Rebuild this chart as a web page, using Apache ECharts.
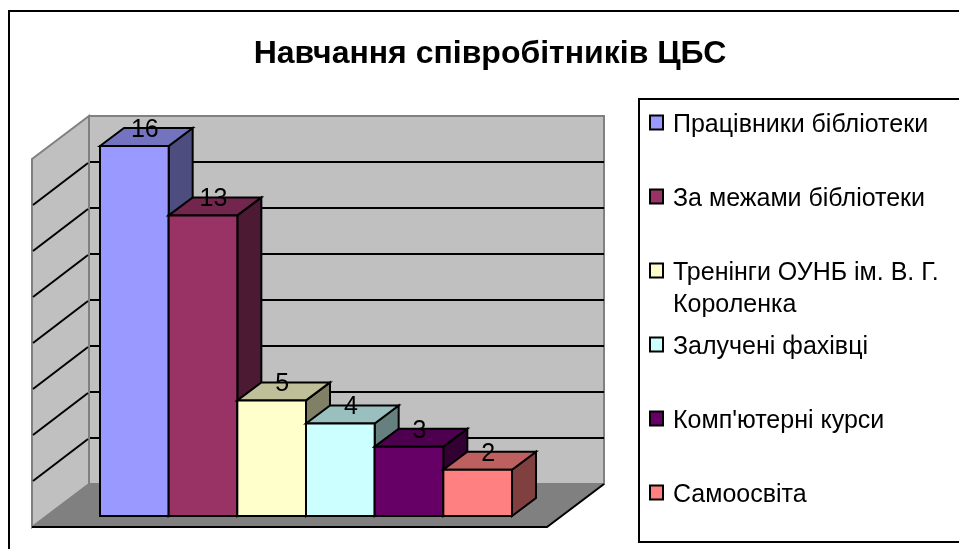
<!DOCTYPE html>
<html>
<head>
<meta charset="utf-8">
<style>
  html, body { margin: 0; padding: 0; background: #fff; overflow: hidden; }
  #main { width: 959px; height: 549px; }
</style>
<script src="https://cdn.jsdelivr.net/npm/echarts@6/dist/echarts.min.js"></script>
</head>
<body>
<div id="main"></div>
<script>
var titleText = "Навчання співробітників ЦБС";
var categories = ["Працівники бібліотеки", "За межами бібліотеки", "Тренінги ОУНБ ім. В. Г. Короленка", "Залучені фахівці", "Комп'ютерні курси", "Самоосвіта"];
var values = [16, 13, 5, 4, 3, 2];
var wallTicks = [0, 2, 4, 6, 8, 10, 12, 14, 16];

var barColors = ["#9999ff", "#993366", "#ffffcc", "#ccffff", "#660066", "#ff8080"];
var legendTops = [113, 187, 261, 335, 409, 483];
var fontName = "Liberation Sans";
var depthX = 24, depthY = 18;   // bar depth in px
var sideX = 57, sideY = 43;     // floor / side wall depth in px

function shade(hex, k) {
  var n = parseInt(hex.slice(1), 16);
  var r = Math.round((n >> 16) * k), g = Math.round(((n >> 8) & 255) * k), b = Math.round((n & 255) * k);
  return "rgb(" + r + "," + g + "," + b + ")";
}

// left wall, floor and slanted grid lines
function renderWalls(params, api) {
  var c = params.coordSys;
  var l = c.x, t = c.y, r = c.x + c.width, b = c.y + c.height;
  var kids = [
    { type: "polygon", shape: { points: [[l - sideX, t + sideY], [l, t], [l, b], [l - sideX, b + sideY]] },
      style: { fill: "#c0c0c0", stroke: "#808080", lineWidth: 2 } },
    { type: "polygon", shape: { points: [[l - sideX, b + sideY], [l, b], [r, b], [r - sideX, b + sideY]] },
      style: { fill: "#808080", stroke: "#808080", lineWidth: 1 } },
    { type: "polyline", shape: { points: [[l - sideX, b + sideY], [r - sideX, b + sideY], [r, b]] },
      style: { fill: null, stroke: "#000", lineWidth: 2 } }
  ];
  wallTicks.slice(1, -1).forEach(function (v) {
    var p = api.coord([0, v]);
    kids.push({ type: "line", shape: { x1: l - sideX + 1, y1: p[1] + sideY, x2: l - 1, y2: p[1] + 1 },
      style: { stroke: "#000", lineWidth: 2 } });
  });
  return { type: "group", children: kids };
}

function renderBar(params, api) {
  var i = api.value(0), v = api.value(1);
  var w = api.size([1, 0])[0];
  var top = api.coord([i, v]), base = api.coord([i, 0]);
  var x0 = top[0] - w / 2, x1 = top[0] + w / 2;
  var y0 = top[1], y1 = base[1];
  var col = barColors[params.seriesIndex - 1];
  var line = { stroke: "#000", lineWidth: 2, lineJoin: "miter" };
  return {
    type: "group",
    children: [
      { type: "polygon", shape: { points: [[x1, y0], [x1 + depthX, y0 - depthY], [x1 + depthX, y1 - depthY], [x1, y1]] },
        style: Object.assign({ fill: shade(col, 0.5) }, line) },
      { type: "polygon", shape: { points: [[x0, y0], [x0 + depthX, y0 - depthY], [x1 + depthX, y0 - depthY], [x1, y0]] },
        style: Object.assign({ fill: shade(col, 0.75) }, line) },
      { type: "rect", shape: { x: x0, y: y0, width: w, height: y1 - y0 },
        style: Object.assign({ fill: col }, line) },
      { type: "text", style: { text: String(v), x: top[0] + 10.5, y: y0 - 16, align: "center", verticalAlign: "middle",
          fill: "#000", font: "25px '" + fontName + "'" }, z2: 10 }
    ]
  };
}

var barSeries = categories.map(function (name, i) {
  return {
    name: name,
    type: "custom",
    xAxisIndex: 0,
    yAxisIndex: 0,
    z: 3 + i,
    clip: false,
    itemStyle: { color: barColors[i] },
    encode: { x: 0, y: 1 },
    data: [[i, values[i]]],
    renderItem: renderBar
  };
});

var option = {
  animation: false,
  backgroundColor: "#fff",
  title: {
    text: titleText,
    left: 485,
    top: 33,
    textAlign: "center",
    textStyle: { fontFamily: fontName, fontSize: 32, fontWeight: "bold", color: "#000" }
  },
  grid: [
    { left: 100, top: 146, width: 412, height: 370 },
    { left: 89, top: 116, width: 515, height: 368, show: true, backgroundColor: "#c0c0c0", borderColor: "#808080", borderWidth: 2 }
  ],
  xAxis: [
    { type: "category", gridIndex: 0, data: categories, show: false },
    { type: "value", gridIndex: 1, min: 0, max: 1, show: false }
  ],
  yAxis: [
    { type: "value", gridIndex: 0, min: 0, max: 16, show: false },
    { type: "value", gridIndex: 1, min: 0, max: 16, interval: 2,
      axisLine: { show: false }, axisTick: { show: false }, axisLabel: { show: false },
      splitLine: { show: true, showMinLine: false, showMaxLine: false, lineStyle: { color: "#000", width: 2 } } }
  ],
  // one legend per entry, the reference spacing is not even
  legend: categories.map(function (name, i) {
    return {
      data: [name],
      left: 649,
      top: legendTops[i],
      orient: "vertical",
      padding: 0,
      selectedMode: false,
      icon: "rect",
      itemWidth: 13,
      itemHeight: 14,
      itemStyle: { borderColor: "#000", borderWidth: 2 },
      textStyle: {
        fontFamily: fontName, fontSize: 25, color: "#000",
        rich: { t: { fontFamily: fontName, fontSize: 25, color: "#000", padding: [6, 0, 0, 5] } }
      },
      formatter: function (n) { return "{t|" + n.replace(" Короленка", "") + "}"; }
    };
  }),
  graphic: [
    { type: "rect", z: 0, shape: { x: 9, y: 11, width: 1100, height: 1100 }, style: { fill: null, stroke: "#000", lineWidth: 2 } },
    { type: "rect", z: 0, shape: { x: 639, y: 99, width: 500, height: 443 }, style: { fill: null, stroke: "#000", lineWidth: 2 } },
    { type: "text", z: 1, left: 673, top: 293, style: { text: "Короленка", fill: "#000", font: "25px '" + fontName + "'" } }
  ],
  series: [{
    type: "custom",
    name: "walls",
    xAxisIndex: 1,
    yAxisIndex: 1,
    z: 2,
    clip: false,
    data: [[0, 0]],
    encode: { x: 0, y: 1 },
    renderItem: renderWalls
  }].concat(barSeries)
};

var chart = echarts.init(document.getElementById("main"));
chart.setOption(option);
</script>
</body>
</html>
